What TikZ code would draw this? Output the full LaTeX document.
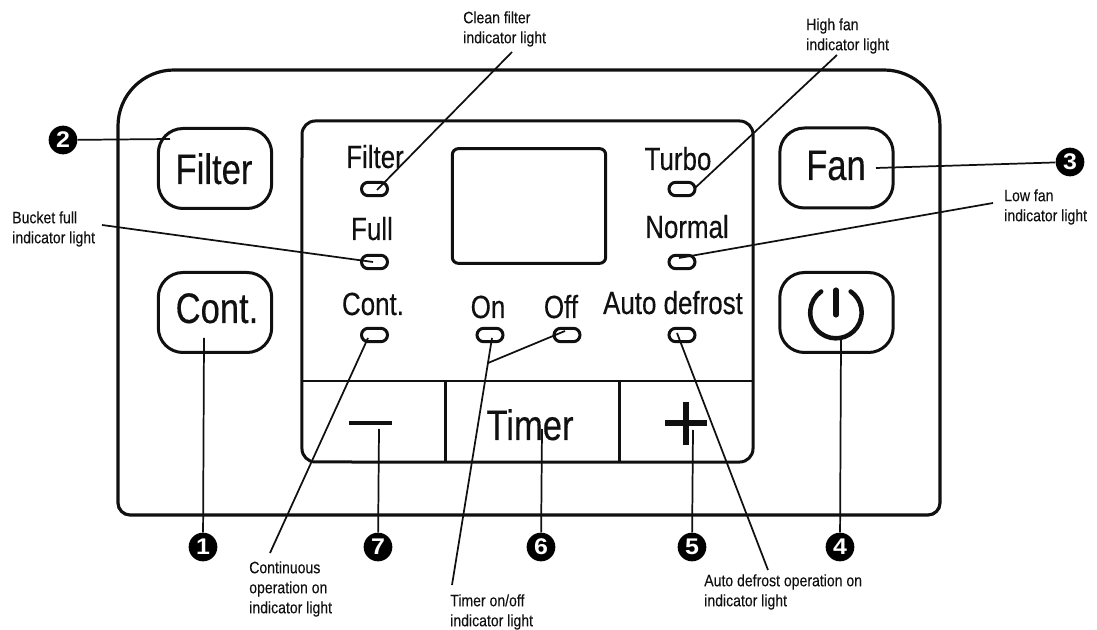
\documentclass[tikz,border=0pt]{standalone}
\usepackage{fontspec}
\setmainfont{Liberation Sans}
\newfontfamily\smallface[FakeStretch=0.85,FakeBold=0.1]{Liberation Sans}
\newfontfamily\largeface[FakeStretch=0.81,FakeBold=0.3]{Liberation Sans}
\newfontfamily\numface[FakeStretch=1.1]{Liberation Sans}
\definecolor{ink}{HTML}{111010}
\tikzset{
  panelline/.style={draw=ink,line width=2.4pt},
  thinframe/.style={draw=ink,line width=2.25pt},
  btn/.style={thinframe,rectangle,rounded corners=18.5pt,minimum width=85pt,minimum height=60pt,inner sep=0pt},
  led/.style={thinframe,rectangle,rounded corners=5pt,minimum width=19.5pt,minimum height=10pt,inner sep=0pt},
  leader/.style={draw=ink,line width=1.3pt},
  callout/.style={circle,fill=black,text=white,minimum size=21.5pt,inner sep=0pt,font=\numface\bfseries\fontsize{17}{17}\selectfont},
  biglabel/.style={anchor=base,inner sep=0pt,font=\largeface\fontsize{32}{32}\selectfont,text=ink},
  midlabel/.style={anchor=base,inner sep=0pt,font=\largeface\fontsize{24}{24}\selectfont,text=ink},
  note/.style={anchor=north west,inner sep=0pt,align=left,font=\smallface\fontsize{12.4}{15}\selectfont,text=ink},
}
\begin{document}
\begin{tikzpicture}[x=0.75pt,y=-0.75pt]
\useasboundingbox (0,0) rectangle (1097,630);
\fill[white] (0,0) rectangle (1097,630);
% outer body and inner panel
\draw[panelline] (118,126) arc[start angle=180,end angle=90,radius=42pt] -- (884,70) arc[start angle=90,end angle=0,radius=42pt] -- (940,503) arc[start angle=0,end angle=-90,radius=9pt] -- (130,515) arc[start angle=270,end angle=180,radius=9pt] -- cycle;
\draw[thinframe] (302,134.3) arc[start angle=180,end angle=90,radius=10pt] -- (739.7,121) arc[start angle=90,end angle=0,radius=10pt] -- (753,448.7) arc[start angle=0,end angle=-90,radius=10pt] -- (315.3,462) arc[start angle=270,end angle=180,radius=10pt] -- cycle;
\draw[draw=ink,line width=1.8pt] (302,381) -- (753,381);
\draw[thinframe] (445,381) -- (445,462) (619,381) -- (619,462);
\node[thinframe,rectangle,rounded corners=4.5pt,minimum width=115pt,minimum height=86pt,inner sep=0pt] (display) at (529,206) {};
% buttons
\node[btn] (bfilter) at (215,168.5) {};
\node[btn] (bcont) at (215,312.5) {};
\node[btn] (bfan) at (836.5,168) {};
\node[btn] (bpower) at (836.5,312.5) {};
% LEDs
\node[led] (lfilter) at (374.5,189) {};
\node[led] (lfull) at (374.5,262) {};
\node[led] (lcont) at (374.5,335) {};
\node[led] (lon) at (490,335) {};
\node[led] (loff) at (567,335) {};
\node[led] (lturbo) at (682,189) {};
\node[led] (lnormal) at (682,262) {};
\node[led] (lauto) at (682,335) {};
% key texts
\node[biglabel] (tfilter) at (214,184) {Filter};
\node[biglabel] (tcont) at (217,323) {Cont.};
\node[biglabel] (tfan) at (836,180) {Fan};
\node[biglabel] (ttimer) at (530,440) {Timer};
\node[midlabel] (pfilter) at (375,168) {Filter};
\node[midlabel] (pfull) at (372,240) {Full};
\node[midlabel] (pcont) at (373,315) {Cont.};
\node[midlabel] (pon) at (488,318) {On};
\node[midlabel] (poff) at (561,318) {Off};
\node[midlabel] (pauto) at (673,314) {Auto defrost};
\node[midlabel] (pturbo) at (678,170) {Turbo};
\node[midlabel] (pnormal) at (687,238) {Normal};
% symbols
\draw[draw=ink,line width=3.7pt] (349,423) -- (392,423);
\draw[draw=ink,line width=3.9pt] (665,423) -- (707,423) (686,402) -- (686,445);
\draw[draw=ink,line width=3.4pt,line cap=round] (850.7,291.5) arc[start angle=55,end angle=-235,radius=19.3pt];
\draw[draw=ink,line width=3.8pt,line cap=round] (836,290) -- (836,315);
% callout numbers
\node[callout] (n1) at (203,547) {1};
\node[callout] (n2) at (63,140) {2};
\node[callout] (n3) at (1070,162) {3};
\node[callout] (n4) at (840,547) {4};
\node[callout] (n5) at (692,547) {5};
\node[callout] (n6) at (541,547) {6};
\node[callout] (n7) at (378,547) {7};
% notes
\node[note] (ncleanfilter) at (463,11) {Clean filter\\indicator light};
\node[note] (nhighfan) at (806,18) {High fan\\indicator light};
\node[note] (nlowfan) at (1004,189) {Low fan\\indicator light};
\node[note] (nbucket) at (12,211) {Bucket full\\indicator light};
\node[note] (ncontinuous) at (249,561) {Continuous\\operation on\\indicator light};
\node[note] (ntimer) at (450,594) {Timer on/off\\indicator light};
\node[note] (nauto) at (704,574) {Auto defrost operation on\\indicator light};
% leader ends
\coordinate (e1) at (204,338);
\coordinate (e2) at (170,139);
\coordinate (e3) at (876,168);
\coordinate (e4) at (841,340);
\coordinate (e5) at (693,430);
\coordinate (e6) at (542,429);
\coordinate (e7) at (379,429);
\coordinate (cf1) at (512,52);
\coordinate (cf2) at (377,190);
\coordinate (hf1) at (837,55);
\coordinate (hf2) at (695,188);
\coordinate (lf1) at (993,203);
\coordinate (lf2) at (679,258);
\coordinate (bf1) at (102,225);
\coordinate (bf2) at (373,262);
\coordinate (co1) at (270,553);
\coordinate (co2) at (368,338);
\coordinate (ti1) at (452,585);
\coordinate (ti2) at (492,338);
\coordinate (tj) at (488,363);
\coordinate (tk) at (565,331);
\coordinate (ad1) at (768,570);
\coordinate (ad2) at (677,333);
% leaders
\draw[leader] (n1) -- (e1);
\draw[leader] (n2) -- (e2);
\draw[leader] (n3) -- (e3);
\draw[leader] (n4) -- (e4);
\draw[leader] (n5) -- (e5);
\draw[leader] (n6) -- (e6);
\draw[leader] (n7) -- (e7);
\draw[leader] (cf1) -- (cf2);
\draw[leader] (hf1) -- (hf2);
\draw[leader] (lf1) -- (lf2);
\draw[leader] (bf1) -- (bf2);
\draw[leader] (co1) -- (co2);
\draw[leader] (ti1) -- (ti2);
\draw[leader] (tj) -- (tk);
\draw[leader] (ad1) -- (ad2);
\end{tikzpicture}
\end{document}
